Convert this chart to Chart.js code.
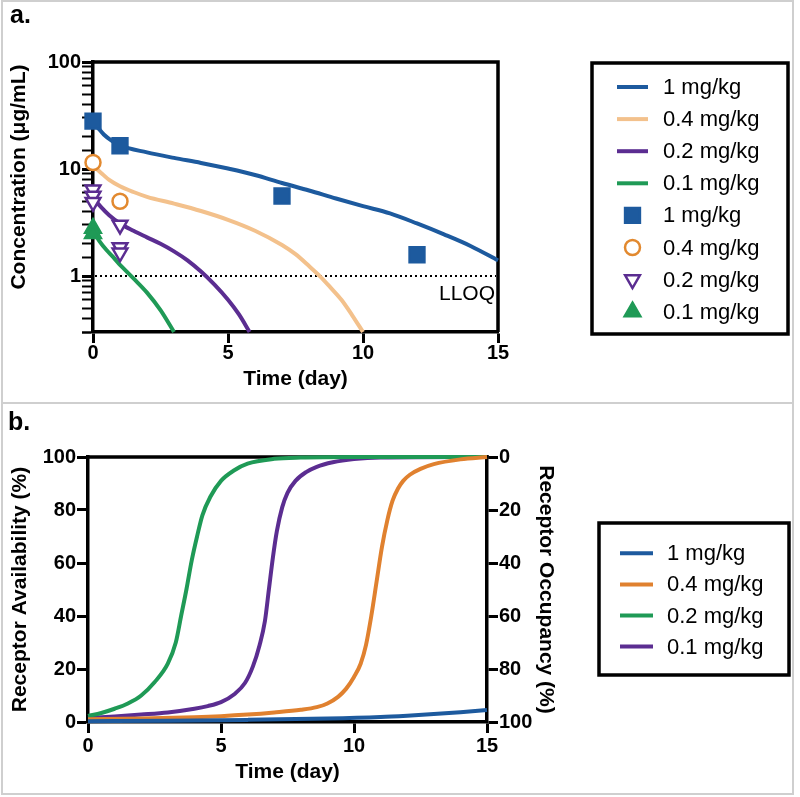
<!DOCTYPE html>
<html>
<head>
<meta charset="utf-8">
<script src="https://cdn.jsdelivr.net/npm/chart.js@4.4.1/dist/chart.umd.min.js"></script>
<style>
  body { margin: 0; background: #fff; font-family: "Liberation Sans", Arial, sans-serif; }
  #page { position: relative; width: 800px; height: 797px; overflow: hidden; }
  #frame { position: absolute; left: 1px; top: 0; width: 793px; height: 795px; box-sizing: border-box; border: 2px solid #cfcfcf; }
  #sep { position: absolute; left: 1px; top: 402px; width: 793px; height: 2px; background: #cfcfcf; }
  .tag { position: absolute; font-weight: bold; font-size: 25px; line-height: 1; color: #000; }
  canvas { position: absolute; left: 0; }
</style>
</head>
<body>
<div id="page">
  <div id="frame"></div>
  <div id="sep"></div>
  <canvas id="chartA" width="800" height="402" style="top:0"></canvas>
  <canvas id="chartB" width="800" height="393" style="top:404px"></canvas>
  <div class="tag" style="left:10px; top:2px">a.</div>
  <div class="tag" style="left:8px; top:409px">b.</div>
</div>
<script>
// ---- panel a: concentration ----
const doseLabels = ["1 mg/kg", "0.4 mg/kg", "0.2 mg/kg", "0.1 mg/kg"];

const fitT1 = [0, 0.2, 0.4, 0.7, 1, 2, 3, 4, 5, 6, 7, 8, 9, 10, 11, 12, 13, 14, 15];
const fitC1 = [27.5, 24, 21, 18.3, 16.6, 14.3, 12.7, 11.4, 10.1, 8.8, 7.4, 6.3, 5.3, 4.5, 3.85, 3.1, 2.45, 1.9, 1.4];
const fitT04 = [0, 0.3, 0.6, 1, 1.5, 2, 3, 4, 5, 6, 7, 7.5, 8, 8.4, 8.8, 9.2, 9.6, 10];
const fitC04 = [10.8, 9.2, 7.9, 6.9, 6.1, 5.5, 4.75, 4.05, 3.35, 2.65, 1.95, 1.6, 1.24, 1.0, 0.78, 0.6, 0.43, 0.3];
const fitT02 = [0, 0.3, 0.6, 1, 1.5, 2, 2.5, 3, 3.5, 4, 4.5, 5, 5.4, 5.8];
const fitC02 = [5.4, 4.4, 3.7, 3.1, 2.65, 2.3, 2.0, 1.7, 1.4, 1.1, 0.83, 0.6, 0.44, 0.3];
const fitT01 = [0, 0.25, 0.5, 0.75, 1, 1.25, 1.5, 2, 2.5, 3];
const fitC01 = [2.65, 2.1, 1.75, 1.5, 1.27, 1.1, 0.95, 0.7, 0.48, 0.3];

const obsT1 = [0, 1, 7, 12];
const obsC1 = [28, 16.5, 5.6, 1.58];
const obsT04 = [0, 1];
const obsC04 = [11.5, 5.0];
const obsT02 = [0, 0, 0, 1, 1, 1];
const obsC02 = [6.4, 5.6, 4.9, 3.0, 1.85, 1.65];
const obsT01 = [0, 0];
const obsC01 = [2.8, 2.5];

const lloq = 1;
const concTicks = [1, 10, 100];

// ---- panel b: receptor availability ----
const raT1 = [0, 3, 6, 9, 11, 12, 13, 14, 15];
const raV1 = [0.3, 0.5, 0.8, 1.3, 1.9, 2.4, 3, 3.7, 4.5];
const raT04 = [0, 2, 4, 5, 6, 7, 8, 8.6, 9, 9.4, 9.7, 10, 10.25, 10.45, 10.65, 10.85, 11.05, 11.25, 11.45, 11.65, 11.85, 12.1, 12.5, 13, 14, 15];
const raV04 = [1, 1.3, 1.8, 2.2, 2.8, 3.6, 4.6, 5.6, 7, 9.5, 12.5, 17, 22, 29, 40, 53, 66, 76, 83.5, 88, 91, 93.3, 95.5, 97.3, 99.1, 100];
const raT02 = [0, 0.5, 1, 1.5, 2, 2.5, 3, 3.3, 3.5, 3.7, 3.9, 4.1, 4.3, 4.6, 5, 5.5, 6, 7, 8, 10, 15];
const raV02 = [2.3, 3.4, 5, 7, 10, 15, 22, 30, 40, 50, 61, 70, 78, 85, 91, 95, 97.5, 99.3, 99.8, 100, 100];
const raT01 = [0, 1, 2, 3, 4, 4.5, 5, 5.5, 5.9, 6.2, 6.45, 6.65, 6.8, 6.95, 7.1, 7.3, 7.5, 7.8, 8.2, 8.6, 9.2, 10, 11, 15];
const raV01 = [1.5, 2.1, 2.8, 3.6, 5, 6, 7.5, 10.5, 14.7, 21, 29, 38, 50, 62, 72, 81, 86.5, 91, 94.3, 96.3, 98, 99.2, 99.8, 100];

const BLUE = "#1d5a9e";
const TAN = "#f3c18c";
const ORANGE_PT = "#e2892f";
const ORANGE = "#e0812f";
const PURPLE = "#5b2d91";
const GREEN = "#1f9a56";

const FONT = "'Liberation Sans', Arial, sans-serif";
const tickFont = { family: FONT, size: 20, weight: "bold" };
const titleFont = { family: FONT, size: 21, weight: "bold" };

function pairs(t, v) {
  return t.map((x, i) => ({ x: x, y: v[i] }));
}

function fitLine(label, t, v, color) {
  return {
    label: label, data: pairs(t, v), borderColor: color, backgroundColor: color,
    borderWidth: 4, pointRadius: 0, cubicInterpolationMode: "monotone",
    clip: false, order: 2
  };
}

function obsPoints(label, t, v, style, radius, fill, stroke, rot) {
  return {
    label: label, data: pairs(t, v), showLine: false,
    pointStyle: style, pointRadius: radius, pointRotation: rot || 0,
    pointBackgroundColor: fill, pointBorderColor: stroke, pointBorderWidth: 2.5,
    borderColor: stroke, backgroundColor: fill, clip: false, order: 1
  };
}

// draws the top / right edges of the plot frame
const frameBox = {
  id: "frameBox",
  beforeDatasetsDraw(chart, args, opts) {
    const { ctx, chartArea: { left, top, right, bottom } } = chart;
    ctx.save();
    ctx.strokeStyle = "#000";
    ctx.lineWidth = 3.5;
    ctx.beginPath();
    ctx.moveTo(left - 1.75, top);
    ctx.lineTo(right + 1.75, top);
    if (opts.right) {
      ctx.moveTo(right, top);
      ctx.lineTo(right, bottom);
    }
    ctx.stroke();
    ctx.restore();
  }
};

const lloqLine = {
  id: "lloqLine",
  beforeDatasetsDraw(chart, args, opts) {
    if (!opts.show) return;
    const { ctx, chartArea: { left, right } } = chart;
    const y = chart.scales.y.getPixelForValue(lloq);
    ctx.save();
    ctx.strokeStyle = "#000";
    ctx.lineWidth = 2;
    ctx.setLineDash([2, 3]);
    ctx.beginPath();
    ctx.moveTo(left + 2, y);
    ctx.lineTo(right - 2, y);
    ctx.stroke();
    ctx.setLineDash([]);
    ctx.fillStyle = "#000";
    ctx.font = "21px " + FONT;
    ctx.textAlign = "right";
    ctx.textBaseline = "alphabetic";
    ctx.fillText("LLOQ", right - 3, y + 24);
    ctx.restore();
  }
};

// vertical axis title placed at a fixed centre
const sideTitle = {
  id: "sideTitle",
  afterDraw(chart, args, o) {
    if (!o.text) return;
    const ctx = chart.ctx;
    ctx.save();
    ctx.translate(o.x, o.y);
    ctx.rotate(-Math.PI / 2);
    ctx.font = "bold 21px " + FONT;
    ctx.fillStyle = "#000";
    ctx.textAlign = "center";
    ctx.textBaseline = "middle";
    ctx.fillText(o.text, 0, 0);
    ctx.restore();
  }
};

function drawMarker(ctx, ds, x, y) {
  const r = ds.pointRadius;
  ctx.save();
  ctx.fillStyle = ds.pointBackgroundColor;
  ctx.strokeStyle = ds.pointBorderColor;
  ctx.lineWidth = ds.pointBorderWidth;
  ctx.beginPath();
  if (ds.pointStyle === "rect") {
    const s = r * Math.SQRT1_2;
    ctx.rect(x - s, y - s, 2 * s, 2 * s);
  } else if (ds.pointStyle === "circle") {
    ctx.arc(x, y, r, 0, Math.PI * 2);
  } else {
    let a = (ds.pointRotation || 0) * Math.PI / 180;
    for (let k = 0; k < 3; k++) {
      const px = x + Math.sin(a) * r, py = y - Math.cos(a) * r;
      if (k === 0) ctx.moveTo(px, py); else ctx.lineTo(px, py);
      a += Math.PI * 2 / 3;
    }
    ctx.closePath();
  }
  ctx.fill();
  ctx.stroke();
  ctx.restore();
}

const boxLegend = {
  id: "boxLegend",
  afterDraw(chart, args, o) {
    const ctx = chart.ctx;
    ctx.save();
    ctx.strokeStyle = "#000";
    ctx.lineWidth = 3.5;
    ctx.strokeRect(o.x, o.y, o.w, o.h);
    ctx.font = "22px " + FONT;
    ctx.fillStyle = "#000";
    ctx.textAlign = "left";
    ctx.textBaseline = "middle";
    chart.data.datasets.forEach((ds, i) => {
      const cy = o.first + i * o.step;
      if (ds.showLine === false) {
        drawMarker(ctx, ds, (o.lx1 + o.lx2) / 2, cy);
      } else {
        ctx.strokeStyle = ds.borderColor;
        ctx.lineWidth = 4;
        ctx.beginPath();
        ctx.moveTo(o.lx1, cy);
        ctx.lineTo(o.lx2, cy);
        ctx.stroke();
      }
      ctx.fillStyle = "#000";
      ctx.fillText(ds.label, o.tx, cy + 1);
    });
    ctx.restore();
  }
};

function isDecade(v) {
  const l = Math.log10(v);
  return Math.abs(l - Math.round(l)) < 1e-9;
}

new Chart(document.getElementById("chartA"), {
  type: "line",
  data: {
    datasets: [
      fitLine(doseLabels[0], fitT1, fitC1, BLUE),
      fitLine(doseLabels[1], fitT04, fitC04, TAN),
      fitLine(doseLabels[2], fitT02, fitC02, PURPLE),
      fitLine(doseLabels[3], fitT01, fitC01, GREEN),
      obsPoints(doseLabels[0], obsT1, obsC1, "rect", 10.5, BLUE, BLUE),
      obsPoints(doseLabels[1], obsT04, obsC04, "circle", 7.5, "#fff", ORANGE_PT),
      obsPoints(doseLabels[2], obsT02, obsC02, "triangle", 8.5, "#fff", PURPLE, 180),
      obsPoints(doseLabels[3], obsT01, obsC01, "triangle", 9, GREEN, GREEN)
    ]
  },
  options: {
    responsive: false,
    animation: false,
    devicePixelRatio: 1,
    layout: { padding: { left: 0, top: 62, right: 302, bottom: 0 } },
    plugins: {
      legend: { display: false },
      tooltip: { enabled: false },
      frameBox: { right: true },
      lloqLine: { show: true },
      sideTitle: { text: "Concentration (μg/mL)", x: 19, y: 177 },
      boxLegend: { x: 592, y: 63, w: 196, h: 271, first: 87, step: 32.1, lx1: 617, lx2: 648, tx: 663 }
    },
    scales: {
      x: {
        type: "linear", min: 0, max: 15,
        afterFit(s) { s.height = 70; },
        ticks: { stepSize: 5, font: tickFont, color: "#000", padding: -2, maxRotation: 0 },
        grid: { drawOnChartArea: false, tickLength: 11, tickWidth: 3, tickColor: "#000" },
        border: { color: "#000", width: 3.5 },
        title: { display: true, text: "Time (day)", font: titleFont, color: "#000", padding: { top: 0, bottom: 10 } }
      },
      y: {
        type: "logarithmic", min: 0.3, max: 100,
        afterFit(s) { s.width = 93; },
        ticks: {
          autoSkip: false, font: tickFont, color: "#000", padding: 1,
          callback: (v) => (concTicks.includes(v) || isDecade(v) ? String(v) : "")
        },
        grid: {
          drawOnChartArea: false, tickLength: 11, tickColor: "#000",
          tickWidth: (c) => (c.tick && isDecade(c.tick.value) ? 3 : 2)
        },
        border: { color: "#000", width: 3.5 },
        title: { display: false }
      }
    }
  },
  plugins: [frameBox, lloqLine, sideTitle, boxLegend]
});

function raLine(label, t, v, color) {
  const d = fitLine(label, t, v, color);
  d.yAxisID = "y";
  return d;
}

new Chart(document.getElementById("chartB"), {
  type: "line",
  data: {
    datasets: [
      raLine(doseLabels[0], raT1, raV1, BLUE),
      raLine(doseLabels[1], raT04, raV04, ORANGE),
      raLine(doseLabels[2], raT02, raV02, GREEN),
      raLine(doseLabels[3], raT01, raV01, PURPLE)
    ]
  },
  options: {
    responsive: false,
    animation: false,
    devicePixelRatio: 1,
    layout: { padding: { left: 0, top: 53, right: 239, bottom: 0 } },
    plugins: {
      legend: { display: false },
      tooltip: { enabled: false },
      frameBox: { right: false },
      lloqLine: { show: false },
      sideTitle: { text: "" },
      boxLegend: { x: 599, y: 119, w: 190, h: 152, first: 149.3, step: 31.1, lx1: 620, lx2: 653, tx: 667 }
    },
    scales: {
      x: {
        type: "linear", min: 0, max: 15,
        afterFit(s) { s.height = 75; },
        ticks: { stepSize: 5, font: tickFont, color: "#000", padding: 1, maxRotation: 0 },
        grid: { drawOnChartArea: false, tickLength: 11, tickWidth: 3, tickColor: "#000" },
        border: { color: "#000", width: 3.5 },
        title: { display: true, text: "Time (day)", font: titleFont, color: "#000", padding: { top: 0, bottom: 12 } }
      },
      y: {
        type: "linear", position: "left", min: 0, max: 100,
        afterFit(s) { s.width = 88; },
        ticks: { stepSize: 20, font: tickFont, color: "#000", padding: 1 },
        grid: { drawOnChartArea: false, tickLength: 11, tickWidth: 3, tickColor: "#000" },
        border: { color: "#000", width: 3.5 },
        title: { display: true, text: "Receptor Availability (%)", font: titleFont, color: "#000", padding: { top: 8, bottom: 0 } }
      },
      y1: {
        type: "linear", position: "right", reverse: true, min: 0, max: 100, display: true,
        afterFit(s) { s.width = 74; },
        ticks: { stepSize: 20, font: tickFont, color: "#000", padding: 1 },
        grid: { drawOnChartArea: false, tickLength: 11, tickWidth: 3, tickColor: "#000" },
        border: { color: "#000", width: 3.5 },
        title: { display: true, text: "Receptor Occupancy (%)", font: titleFont, color: "#000", padding: { top: 3, bottom: 0 } }
      }
    }
  },
  plugins: [frameBox, lloqLine, sideTitle, boxLegend]
});
</script>
</body>
</html>
